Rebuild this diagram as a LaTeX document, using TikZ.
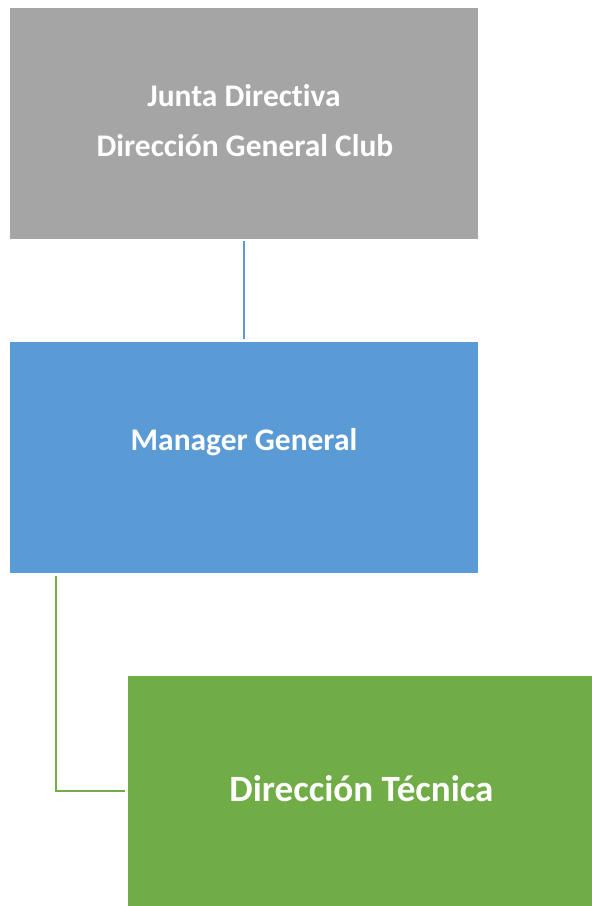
\documentclass[tikz,border=0pt]{standalone}
\usepackage{fontspec}
\setmainfont{Carlito}[RawFeature={-liga;-clig;-dlig;-calt}]
\definecolor{boxgray}{HTML}{A5A5A5}
\definecolor{boxblue}{HTML}{5B9BD5}
\definecolor{boxgreen}{HTML}{70AD47}
\tikzset{
  orgbox/.style={rectangle, inner sep=0pt, outer sep=0pt, minimum width=#1*0.75pt},
  orgtext/.style={anchor=base, inner sep=0pt, text=white, font=\bfseries\fontsize{23.6}{28}\selectfont},
  bigtext/.style={anchor=base, inner sep=0pt, text=white, font=\bfseries\fontsize{27.8}{32}\selectfont},
  conn/.style={line width=1.8pt}
}
\begin{document}
\begin{tikzpicture}[x=0.75pt,y=-0.75pt]
\useasboundingbox (0,0) rectangle (592,906);
\node[orgbox=468, fill=boxgray, minimum height=231*0.75pt] (gray) at (244,123.5) {};
\node[orgbox=468, fill=boxblue, minimum height=231*0.75pt] (blue) at (244,457.5) {};
\node[orgbox=464, fill=boxgreen, minimum height=230*0.75pt] (green) at (360,791) {};
\node[orgtext] (t1) at (244,107) {Junta Directiva};
\node[orgtext] (t2) at (245,156.5) {Dirección General Club};
\node[orgtext] (t3) at (244,450.7) {Manager General};
\node[bigtext] (t4) at (361.5,801.7) {Dirección Técnica};
\draw[conn, boxblue, shorten <=1.5pt, shorten >=2.3pt] (gray.south) -- (blue.north);
\draw[conn, boxgreen, shorten >=2.3pt] ([shift={(46,3)}]blue.south west) |- (green.west);
\end{tikzpicture}
\end{document}
